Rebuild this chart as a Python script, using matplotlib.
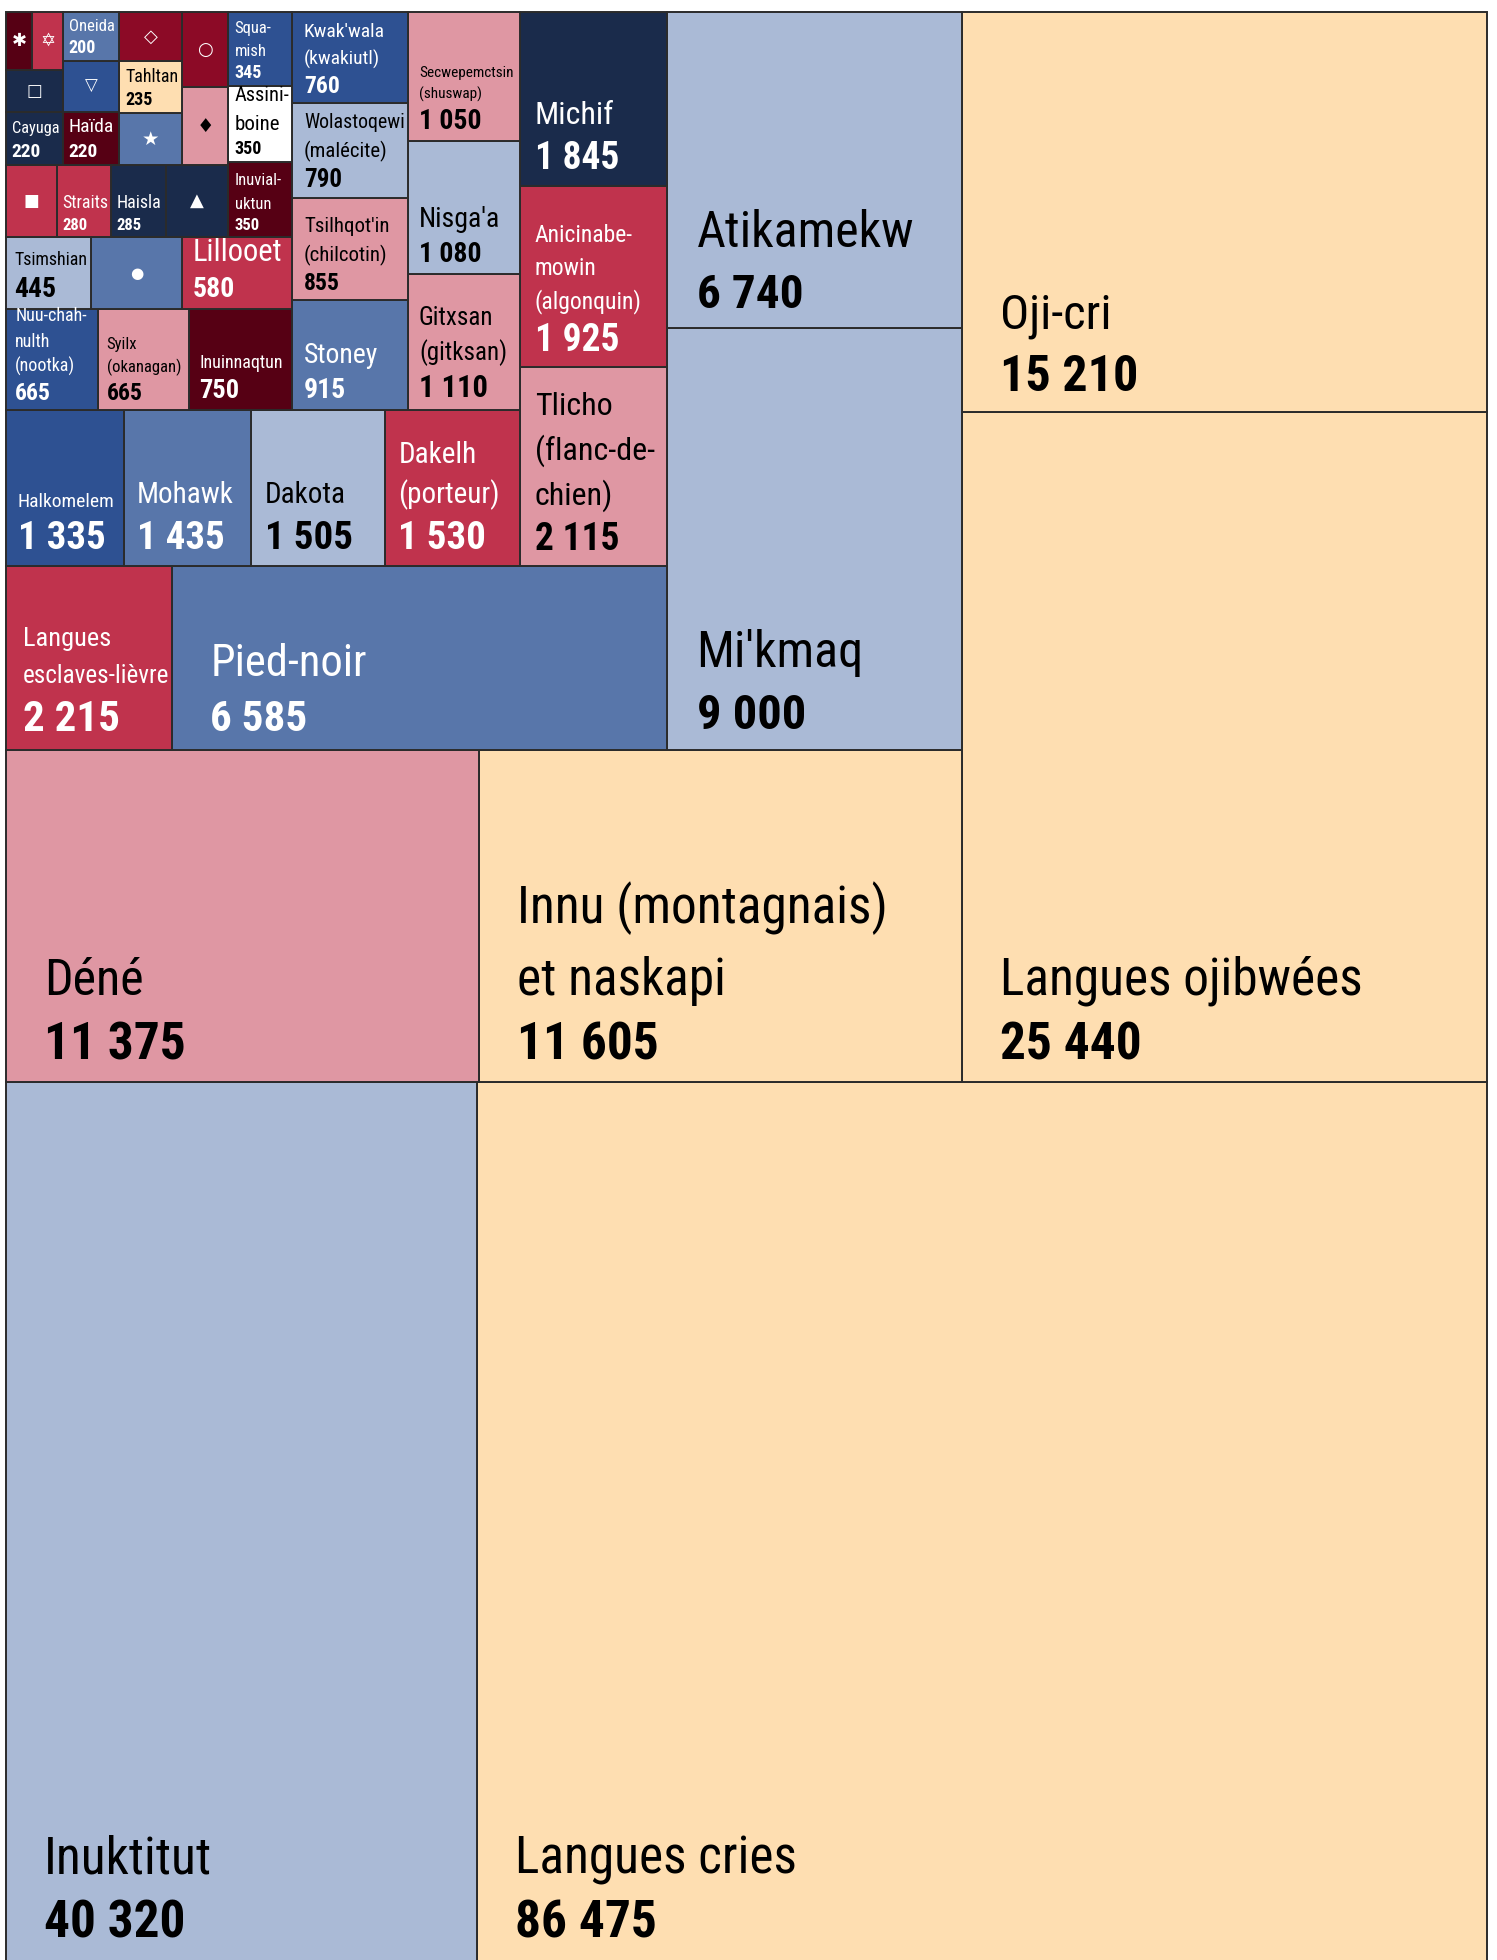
import matplotlib
matplotlib.use("Agg")
import matplotlib.pyplot as plt
from matplotlib import font_manager
from matplotlib.patches import Rectangle

# speakers per Indigenous language, largest first (symbols = unnamed small languages)
languages = ["Langues cries", "Inuktitut", "Langues ojibwées", "Oji-cri",
             "Innu (montagnais)\net naskapi", "Déné", "Mi'kmaq", "Atikamekw",
             "Pied-noir", "Langues\nesclaves-lièvre", "Tlicho\n(flanc-de-\nchien)",
             "Anicinabe-\nmowin\n(algonquin)", "Michif", "Dakelh\n(porteur)", "Dakota",
             "Mohawk", "Halkomelem", "Gitxsan\n(gitksan)", "Nisga'a",
             "Secwepemctsin\n(shuswap)", "Stoney", "Tsilhqot'in\n(chilcotin)",
             "Wolastoqewi\n(malécite)", "Kwak'wala\n(kwakiutl)", "Inuinnaqtun",
             "Syilx\n(okanagan)", "Nuu-chah-\nnulth\n(nootka)", "Lillooet", "●",
             "Tsimshian", "Inuvial-\nuktun", "Assini-\nboine", "Squa-\nmish", "▲",
             "Haisla", "Straits", "■", "♦", "○", "★", "Tahltan", "◇", "Haïda",
             "Cayuga", "▽", "Oneida", "□", "✡", "✱"]
speakers = [86475, 40320, 25440, 15210, 11605, 11375, 9000, 6740, 6585, 2215, 2115,
            1925, 1845, 1530, 1505, 1435, 1335, 1110, 1080, 1050, 915, 855, 790, 760,
            750, 665, 665, 580, 480, 445, 350, 350, 345, 320, 285, 280, 265, 260,
            250, 240, 235, 225, 220, 220, 205, 200, 170, 130, 110]
symbols = {"●", "▲", "■", "♦", "○", "★", "◇", "▽", "□", "✡", "✱"}

# number of cells in each strip of the treemap
strips = [2, 2, 2, 2, 2, 3, 4, 3, 4, 3, 3, 3, 4, 2, 3, 2, 2, 1, 2]

###### styles
palette = {"beige": "#fedeb1", "ltblue": "#aabad6", "pink": "#df97a3", "blue": "#5876aa",
           "dkblue": "#2e5192", "navy": "#1a2b4b", "red": "#c0334d", "dkred": "#8c0a26",
           "maroon": "#560014", "white": "#ffffff"}
shade = ["beige", "ltblue", "beige", "beige", "beige", "pink", "ltblue", "ltblue",
         "blue", "red", "pink", "red", "navy", "red", "ltblue", "blue", "dkblue",
         "pink", "ltblue", "pink", "blue", "pink", "ltblue", "dkblue", "maroon",
         "pink", "dkblue", "red", "blue", "ltblue", "maroon", "white", "dkblue",
         "navy", "navy", "red", "red", "pink", "dkred", "blue", "beige", "dkred",
         "maroon", "navy", "dkblue", "blue", "navy", "red", "maroon"]
light = {"beige", "ltblue", "pink", "white"}

# (name size, value size) in points
sizes = [(37, 37), (37, 37), (37, 37), (35, 36), (37, 37), (36, 37), (36, 35), (36, 34),
         (32, 31), (19, 31), (23, 27), (17, 27), (23, 27), (21, 28), (21, 28), (21, 28),
         (14, 28), (18, 22), (20, 20), (11, 20), (20, 20), (15, 17), (15, 18), (14, 17),
         (13, 19), (12, 17), (13, 17), (22, 20), (0, 11), (14, 20), (12, 12), (15, 13),
         (12, 13), (0, 13), (13, 12), (13, 12), (0, 12), (0, 14), (0, 13), (0, 14),
         (13, 13), (0, 13), (14, 14), (13, 14), (0, 12), (12, 13), (0, 12), (0, 13), (0, 13)]

fams = {f.name for f in font_manager.fontManager.ttflist}
FONT = next(f for f in ["Roboto Condensed", "Liberation Sans Narrow", "Roboto", "DejaVu Sans"]
            if f in fams)
plt.rcParams['font.family'] = [FONT, 'DejaVu Sans']

###### layout: strips along the shorter side, growing from the bottom-right corner
W, H = 1481.0, 2253.0   # full treemap in pixels; only the top part is shown
VIEW = 1948.0

def strip_layout(values, counts, x0, y0, x1, y1):
    rects, i, total = [], 0, float(sum(values))
    for c in counts:
        grp = values[i:i + c]
        s = float(sum(grp))
        dx, dy = x1 - x0, y1 - y0
        if dx < dy:
            ny = y0 + dy * s / total
            x = x0
            for v in grp:
                w = dx * v / s
                rects.append((x, y0, w, ny - y0))
                x += w
            y0 = ny
        else:
            nx = x0 + dx * s / total
            y = y0
            for v in grp:
                h = dy * v / s
                rects.append((x0, y, nx - x0, h))
                y += h
            x0 = nx
        total -= s
        i += c
    return rects

rects = strip_layout(speakers, strips, 0, 0, W, H)

fig = plt.figure(figsize=(14.97, 19.60), dpi=100)
ax = fig.add_axes([6 / 1497, 0, W / 1497, VIEW / 1960])
ax.set_xlim(W, 0)
ax.set_ylim(H - VIEW, H)
ax.axis("off")
renderer = fig.canvas.get_renderer()
ybot = H - VIEW
PX = 100 / 72

def fmt(v):
    return f"{v:,}".replace(",", " ")

for (x, y, w, h), name, val, sh, (npt, vpt) in zip(rects, languages, speakers, shade, sizes):
    ax.add_patch(Rectangle((x, y), w, h, facecolor=palette[sh], edgecolor="#2b2b2b",
                           linewidth=1.4, clip_on=False))
    col = "black" if sh in light else "white"
    if name in symbols:
        ax.text(x + w / 2, y + h / 2, name, ha="center", va="center", fontsize=vpt,
                color=col, family="DejaVu Sans")
        continue
    left = x + w
    bottom = max(y, ybot)
    pad = min(0.1 * w, 38)
    avail = w - pad - 3
    tx = left - pad
    ty = bottom + 0.6 * vpt
    t = ax.text(tx, ty, fmt(val), ha="left", va="baseline", fontsize=vpt,
                fontweight="bold", color=col)
    ty += 1.25 * vpt + 0.5 * npt
    for ln in reversed(name.split("\n")):
        t = ax.text(tx, ty, ln, ha="left", va="baseline", fontsize=npt, color=col)
        wd = t.get_window_extent(renderer).width
        if wd > avail:
            t.set_fontsize(npt * avail / wd)
        ty += 1.4 * npt * PX

fig.savefig("out.png", dpi=100, facecolor="white")
